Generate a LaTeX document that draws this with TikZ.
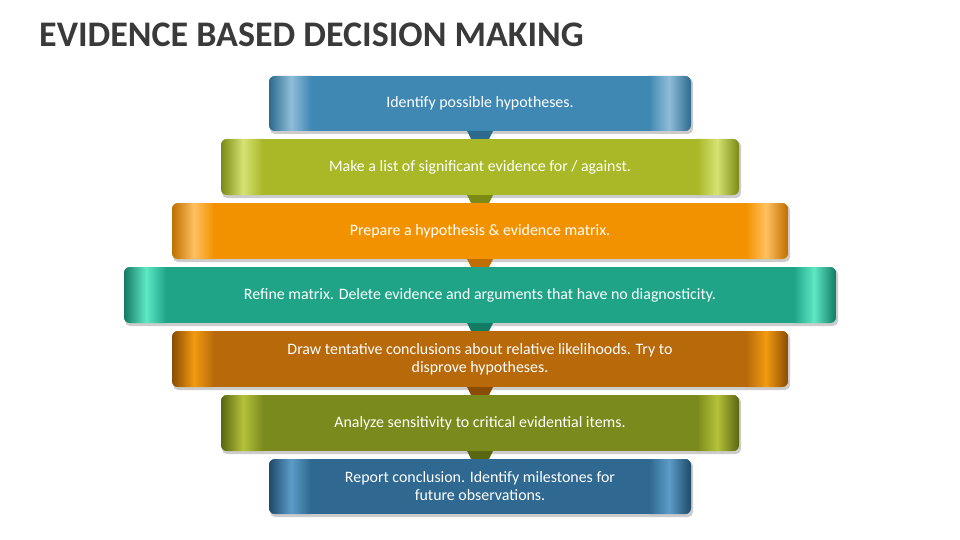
\documentclass[tikz,border=0pt]{standalone}
\usepackage{fontspec}
\setmainfont{Carlito}
\usetikzlibrary{calc}
\definecolor{c1}{HTML}{3F88B4}\definecolor{d1}{HTML}{2C6A8E}\definecolor{l1}{HTML}{8FBDD8}
\definecolor{c2}{HTML}{A8B826}\definecolor{d2}{HTML}{7A8A14}\definecolor{l2}{HTML}{D6E272}
\definecolor{c3}{HTML}{F39200}\definecolor{d3}{HTML}{C06E00}\definecolor{l3}{HTML}{FFC060}
\definecolor{c4}{HTML}{1FA488}\definecolor{d4}{HTML}{137A64}\definecolor{l4}{HTML}{5EE8C4}
\definecolor{c5}{HTML}{B8690A}\definecolor{d5}{HTML}{8A4C04}\definecolor{l5}{HTML}{F29A10}
\definecolor{c6}{HTML}{7B8A1C}\definecolor{d6}{HTML}{5A6610}\definecolor{l6}{HTML}{B4C23A}
\definecolor{c7}{HTML}{2F6890}\definecolor{d7}{HTML}{1E4A6A}\definecolor{l7}{HTML}{5C9CC8}
\definecolor{titlec}{HTML}{3A3A3A}
\tikzset{bartext/.style={text=white,font=\fontsize{15.9}{18}\selectfont,align=center,inner sep=0pt},
tabshape/.style={draw=none}}
\newcommand\mybar[8]{% x0 x1 y0 y1 colorindex name text
  \fill[gray!40,rounded corners=5pt] (#1+1,#3+2) rectangle (#2+2,#4+3);
  \begin{scope}
  \clip[rounded corners=6pt] (#1,#3) rectangle (#2,#4);
  \fill[c#5] (#1,#3) rectangle (#2,#4);
  \shade[left color=d#5,right color=l#5] (#1,#3) rectangle (#1+22,#4);
  \shade[left color=l#5,right color=c#5] (#1+22,#3) rectangle (#1+42,#4);
  \shade[right color=d#5,left color=l#5] (#2-22,#3) rectangle (#2,#4);
  \shade[right color=l#5,left color=c#5] (#2-42,#3) rectangle (#2-22,#4);
  \end{scope}
  \node[bartext] (#6) at ({(#1+#2)/2},{(#3+#4)/2}) {#7};
  \coordinate (#6b) at ({(#1+#2)/2},#4);
  \ifx&#8&\else
  \fill[d#5] ($(#6b)+(-13,0)$) -- ($(#6b)+(13,0)$) -- ($(#6b)+(9,8)$) -- ($(#6b)+(-9,8)$) -- cycle;
  \fi
}
\begin{document}
\begin{tikzpicture}[x=1pt,y=-1pt]
\useasboundingbox (0,0) rectangle (960,540);
\node[anchor=west,text=titlec,font=\bfseries\fontsize{36}{40}\selectfont,inner sep=0pt] (title) at (39,35) {EVIDENCE BASED DECISION MAKING};
\mybar{269}{691}{76}{131}{1}{b1}{Identify possible hypotheses.}{t}
\mybar{221}{739}{139}{195}{2}{b2}{Make a list of significant evidence for / against.}{t}
\mybar{172}{788}{203}{259}{3}{b3}{Prepare a hypothesis \& evidence matrix.}{t}
\mybar{124}{836}{267}{323}{4}{b4}{Refine matrix. Delete evidence and arguments that have no diagnosticity.}{t}
\mybar{172}{788}{331}{387}{5}{b5}{Draw tentative conclusions about relative likelihoods. Try to\\disprove hypotheses.}{t}
\mybar{221}{739}{395}{451}{6}{b6}{Analyze sensitivity to critical evidential items.}{t}
\mybar{269}{691}{459}{514}{7}{b7}{Report conclusion. Identify milestones for\\future observations.}{}
\end{tikzpicture}
\end{document}
